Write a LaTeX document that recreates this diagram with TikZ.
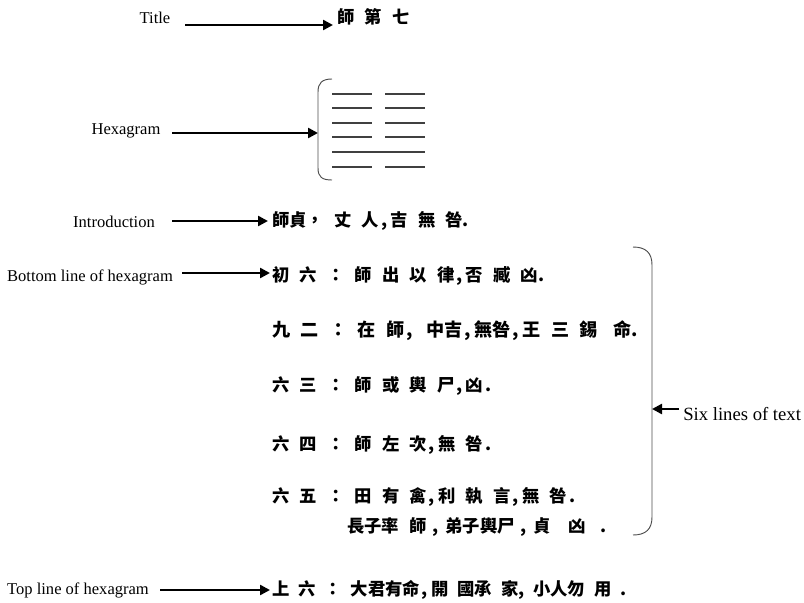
\documentclass[tikz,border=0pt]{standalone}
\usepackage{fontspec}
\setmainfont{Liberation Serif}
\newfontfamily\cjk{Noto Sans CJK TC}
\usetikzlibrary{arrows.meta}
\newcommand\cm{\kern1.5pt,\kern2.5pt}
\newcommand\wcm{\kern4.5pt,\kern5pt}
\newcommand\zhsp{\spaceskip=7.6pt\relax}
\newcommand\zhspb{\spaceskip=7.8pt\relax}
\newcommand\zhspc{\spaceskip=6.6pt\relax}
\begin{document}
\begin{tikzpicture}[x=0.75pt,y=-0.75pt,
  lbl/.style={font=\fontsize{12.4pt}{14pt}\selectfont, inner sep=0pt},
  zh/.style={font=\cjk\bfseries\fontsize{13pt}{15pt}\selectfont, execute at begin node=\zhsp, inner sep=0pt, anchor=west},
  zhb/.style={zh, font=\cjk\bfseries\fontsize{13.6pt}{15pt}\selectfont, execute at begin node=\zhspb},
  zhc/.style={zh, execute at begin node=\zhspc},
  arr/.style={line width=1.8pt, -{Triangle[length=7.5pt,width=7.5pt]}},
  hex/.style={line width=1.1pt, draw=black!75},
  brk/.style={line width=0.7pt, draw=black!70}]
\useasboundingbox (0,0) rectangle (804,603);
% Title
\node[lbl] (ltitle) at (155,18) {Title};
\node[zh] (ttitle) at (337,17) {師 第 七};
\coordinate (s1) at (185,25);
\coordinate (e1) at (333,25);
\draw[arr] (s1) -- (e1);
% Hexagram
\node[lbl] (lhex) at (126,131) {Hexagram};
\coordinate (s2) at (172,133);
\coordinate (e2) at (318,133);
\draw[arr] (s2) -- (e2);
\draw[brk] (332,79) .. controls (322,79) and (318,83) .. (318,92) -- (318,168) .. controls (318,177) and (322,180) .. (332,180);
\foreach \y in {94,108,123,137,167} {
  \draw[hex] (332,\y) -- (372,\y);
  \draw[hex] (385,\y) -- (425,\y);
}
\draw[hex] (332,152) -- (425,152);
% Introduction
\node[lbl] (lintro) at (114,222) {Introduction};
\node[zh] (tintro) at (272,221) {師貞， 丈 人\cm 吉 無 咎.};
\coordinate (s3) at (172,221);
\coordinate (e3) at (268,221);
\draw[arr] (s3) -- (e3);
% Lines
\node[lbl] (lbottom) at (90,277) {Bottom line of hexagram};
\coordinate (s4) at (182,273);
\coordinate (e4) at (270,273);
\draw[arr] (s4) -- (e4);
\node[zh] (l1) at (272,276) {初 六 ： 師 出 以 律\cm 否 臧 凶.};
\node[zhb] (l2) at (272,331) {九 二 ： 在 師\cm\ 中吉\cm 無咎\cm 王 三 錫\hspace{12pt}命.};
\node[zh] (l3) at (272,386) {六 三 ： 師 或 輿 尸\cm 凶\kern2pt.};
\node[zh] (l4) at (272,445) {六 四 ： 師 左 次\cm 無 咎\kern2pt.};
\node[zh] (l5) at (272,497) {六 五 ： 田 有 禽\cm 利 執 言\cm 無 咎\kern2pt.};
\node[zh] (l5b) at (347,527) {長子率 師\wcm 弟子輿尸\wcm 貞\hspace{13pt}凶\hspace{11pt}.};
\node[lbl] (ltop) at (78,590) {Top line of hexagram};
\coordinate (s5) at (160,590);
\coordinate (e5) at (270,590);
\draw[arr] (s5) -- (e5);
\node[zhc] (l6) at (272,590) {上 六 ： 大君有命\cm 開 國承 家, 小人勿 用 .};
% Right brace
\draw[brk] (633,247) .. controls (646,247) and (652,253) .. (652,265) -- (652,517) .. controls (652,529) and (646,535) .. (633,535);
\node[lbl, anchor=west, font=\fontsize{14pt}{16pt}\selectfont] (lsix) at (683,414) {Six lines of text};
\coordinate (s6) at (679,409);
\coordinate (e6) at (652,409);
\draw[arr] (s6) -- (e6);
\end{tikzpicture}
\end{document}
